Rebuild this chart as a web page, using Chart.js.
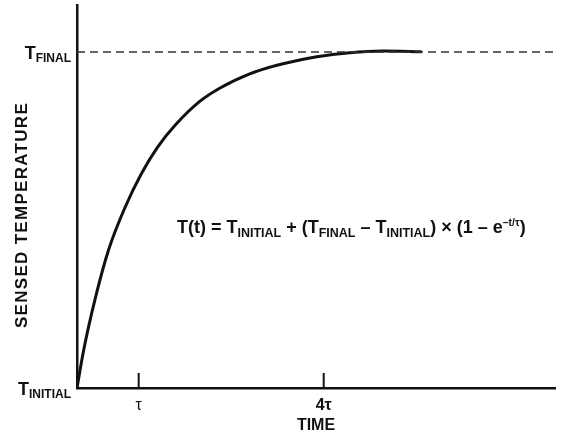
<!DOCTYPE html>
<html>
<head>
<meta charset="utf-8">
<script src="https://cdn.jsdelivr.net/npm/chart.js@4"></script>
<style>
  html, body { margin: 0; padding: 0; background: #fff; }
  #wrap { width: 562px; height: 439px; position: relative; }
</style>
</head>
<body>
<div id="wrap"><canvas id="chart"></canvas></div>
<script>
/* ── Data (time in units of tau, temp as fraction of T_FINAL - T_INITIAL) ── */
const timeTau = [0, 0.10, 0.29, 0.51, 0.78, 1.05, 1.31, 1.59, 1.99, 2.32, 2.80, 3.13, 3.34, 3.89, 4.42, 4.96, 5.59];
const sensed  = [0, 0.105, 0.262, 0.410, 0.538, 0.640, 0.718, 0.782, 0.853, 0.893, 0.935, 0.955, 0.965, 0.986, 0.998, 1.003, 1.001];
const finalLevel = 1;
const xTicks = [1, 4];
const xTickLabels = ["τ", "4τ"];

const FONT = "'Liberation Sans', Arial, sans-serif";

/* ── draw a run of text pieces: [text, size, dy] ── */
function drawRuns(ctx, runs, x, y, align) {
  let total = 0;
  runs.forEach(r => { ctx.font = "bold " + r[1] + "px " + FONT; total += ctx.measureText(r[0]).width; });
  let cx = align === "right" ? x - total : x;
  ctx.textAlign = "left";
  ctx.textBaseline = "alphabetic";
  runs.forEach(r => {
    ctx.font = "bold " + r[1] + "px " + FONT;
    ctx.fillText(r[0], cx, y + (r[2] || 0));
    cx += ctx.measureText(r[0]).width;
  });
}

/* ── Annotation plugin: ticks, labels, formula ── */
const annot = {
  id: "annot",
  afterDraw(chart) {
    const ctx = chart.ctx;
    const xs = chart.scales.x, ys = chart.scales.y;
    const base = ys.getPixelForValue(0);
    ctx.save();
    ctx.fillStyle = "#111";
    ctx.strokeStyle = "#111";

    // tick marks pointing up + labels
    ctx.lineWidth = 2;
    xTicks.forEach((v, i) => {
      const px = xs.getPixelForValue(v);
      ctx.beginPath();
      ctx.moveTo(px, base);
      ctx.lineTo(px, base - 15);
      ctx.stroke();
      ctx.font = (i === 0 ? "" : "bold ") + "16px " + FONT;
      ctx.textAlign = "center";
      ctx.textBaseline = "middle";
      ctx.fillText(xTickLabels[i], px, base + 18);
    });

    // x title
    ctx.font = "bold 16px " + FONT;
    ctx.textAlign = "center";
    ctx.textBaseline = "middle";
    ctx.fillText("TIME", (chart.chartArea.left + chart.chartArea.right) / 2, base + 38);

    // y title
    ctx.save();
    ctx.translate(22, 215);
    ctx.rotate(-Math.PI / 2);
    ctx.font = "bold 17px " + FONT;
    ctx.letterSpacing = "1.3px";
    ctx.fillText("SENSED TEMPERATURE", 0, 0);
    ctx.restore();

    // y labels with subscripts
    const yf = ys.getPixelForValue(finalLevel);
    drawRuns(ctx, [["T", 18, 0], ["FINAL", 12, 3]], 71, yf + 7, "right");
    drawRuns(ctx, [["T", 18, 0], ["INITIAL", 12, 3]], 71, base + 7, "right");

    // formula
    const fx = xs.getPixelForValue(1.62), fy = ys.getPixelForValue(0.48) + 6;
    drawRuns(ctx, [
      ["T(t) = T", 18, 0], ["INITIAL", 12.5, 4], [" + (T", 18, 0], ["FINAL", 12.5, 4],
      [" \u2013 T", 18, 0], ["INITIAL", 12.5, 4], [") \u00d7 (1 \u2013 e", 18, 0],
      ["\u2013t/\u03c4", 10.5, -7], [")", 18, 0]
    ], fx, fy, "left");
    ctx.restore();
  }
};

const xMax = 7.75, yMax = 1.14;

new Chart(document.getElementById("chart"), {
  type: "line",
  data: {
    datasets: [
      {
        data: [{ x: 0, y: finalLevel }, { x: xMax, y: finalLevel }],
        borderColor: "#333",
        borderWidth: 1.5,
        borderDash: [8, 5],
        pointRadius: 0
      },
      {
        data: timeTau.map((t, i) => ({ x: t, y: sensed[i] })),
        borderColor: "#111",
        borderWidth: 3,
        pointRadius: 0,
        cubicInterpolationMode: "monotone",
        fill: false
      }
    ]
  },
  options: {
    responsive: true,
    maintainAspectRatio: false,
    animation: false,
    layout: { padding: { left: 77, right: 7, top: 5, bottom: 51 } },
    plugins: { legend: { display: false }, tooltip: { enabled: false } },
    scales: {
      x: {
        type: "linear", min: 0, max: xMax,
        ticks: { display: false },
        grid: { display: false, drawTicks: false },
        border: { display: true, color: "#111", width: 2.5 },
        afterFit(s) { s.height = 0; }
      },
      y: {
        min: 0, max: yMax,
        ticks: { display: false },
        grid: { display: false, drawTicks: false },
        border: { display: true, color: "#111", width: 2.5 },
        afterFit(s) { s.width = 0; }
      }
    }
  },
  plugins: [annot]
});
</script>
</body>
</html>
